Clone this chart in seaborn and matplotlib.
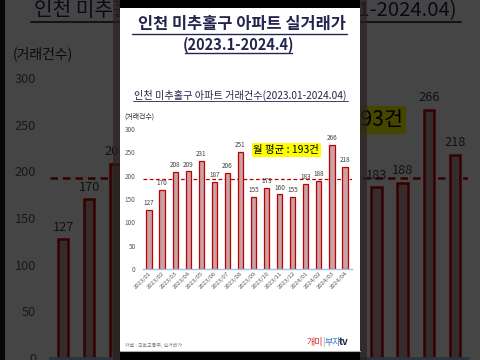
import matplotlib
matplotlib.use('Agg')
import matplotlib.pyplot as plt
from matplotlib.patches import Rectangle
import seaborn as sns
import pandas as pd

# --- data ---
months = ['2023/01', '2023/02', '2023/03', '2023/04', '2023/05', '2023/06',
          '2023/07', '2023/08', '2023/09', '2023/10', '2023/11', '2023/12',
          '2024/01', '2024/02', '2024/03', '2024/04']
counts = [127, 170, 208, 209, 231, 187, 206, 251, 155, 173, 160, 155, 183, 188, 266, 218]
avg_count = 193
y_ticks = [0, 50, 100, 150, 200, 250, 300]

main_title = '인천 미추홀구 아파트 실거래가'
sub_title = '(2023.1-2024.4)'
chart_title = '인천 미추홀구 아파트 거래건수(2023.01-2024.04)'
y_unit = '(거래건수)'
avg_text = '월 평균 : 193건'
source_text = '자료 : 국토교통부, 실거래가'

df = pd.DataFrame({'month': months, 'count': counts})

sns.set_style('white')
plt.rcParams['font.family'] = ['Noto Sans CJK KR', 'DejaVu Sans']

TITLE_COL = '#25244f'
BAR_FILL = '#c8a2a4'
BAR_EDGE = '#c00000'

fig = plt.figure(figsize=(4.8, 3.6), dpi=100)
fig.patch.set_facecolor('#1e1e1e')


def draw_layer(s, z):
    """Draw the video panel, scaled by s around (235, 180) in pixel space."""
    cx, cy = 235, 180

    def P(x, y):
        return cx + s * (x - cx), cy + s * (y - cy)

    canvas = fig.add_axes([0, 0, 1, 1], zorder=z)
    canvas.set_xlim(0, 480)
    canvas.set_ylim(360, 0)
    canvas.axis('off')
    canvas.patch.set_alpha(0)

    x0, y0 = P(120, 8)
    x1, y1 = P(360, 351)
    canvas.add_patch(Rectangle((x0, y0), x1 - x0, y1 - y0, fc='white', ec='none'))

    # titles with underline
    canvas.text(*P(242, 24), main_title, ha='center', va='center',
                fontsize=11.8 * s, color=TITLE_COL, fontweight='bold')
    canvas.plot(*zip(P(132, 34), P(347, 34)), color=TITLE_COL, lw=1 * s)
    canvas.text(*P(239, 45), sub_title, ha='center', va='center',
                fontsize=10.5 * s, color=TITLE_COL, fontweight='bold')
    canvas.plot(*zip(P(185, 53), P(292, 53)), color=TITLE_COL, lw=1 * s)

    canvas.text(*P(240, 95), chart_title, ha='center', va='center',
                fontsize=7.3 * s, color=TITLE_COL)
    canvas.plot(*zip(P(133, 101), P(348, 101)), color=TITLE_COL, lw=0.6 * s)

    canvas.text(*P(124, 117), y_unit, ha='left', va='center',
                fontsize=5 * s, color='#262626')
    canvas.text(*P(125, 345), source_text, ha='left', va='center',
                fontsize=3.6 * s, color='#7f7f7f')

    # logo
    canvas.text(*P(307, 342), '개미', ha='left', va='center', fontsize=6.5 * s, color='#e02b2b')
    canvas.text(*P(322, 342), '|', ha='left', va='center', fontsize=6.5 * s, color='#999999')
    canvas.text(*P(325, 342), '부자', ha='left', va='center', fontsize=6.5 * s, color='#3f78c8')
    canvas.text(*P(339, 342), 'tv', ha='left', va='center', fontsize=7 * s,
                color='#1f2a44', fontweight='bold')

    # chart axes
    L, T = P(142.5, 129)
    R, B = P(351.5, 269)
    ax = fig.add_axes([L / 480, 1 - B / 360, (R - L) / 480, (B - T) / 360], zorder=z + 1)
    ax.patch.set_alpha(0)
    sns.barplot(data=df, x='month', y='count', ax=ax, width=0.4,
                color=BAR_FILL, edgecolor=BAR_EDGE, linewidth=0.9 * s, saturation=1)
    for c in ax.containers:
        ax.bar_label(c, padding=2 * s, fontsize=4.6 * s, color='#404040')
    ax.axhline(avg_count, color=BAR_EDGE, ls=(0, (3, 2)), lw=0.9 * s, zorder=0)
    ax.set_ylim(0, 300)
    ax.set_xlim(-0.5, len(months) - 0.5)
    ax.set_yticks(y_ticks)
    ax.set_xlabel('')
    ax.set_ylabel('')
    ax.tick_params(axis='y', length=0, labelsize=4.6 * s, labelcolor='#595959', pad=5 * s)
    ax.tick_params(axis='x', length=0, labelsize=4.3 * s, labelcolor='#595959', pad=1 * s)
    for lab in ax.get_xticklabels():
        lab.set_rotation(45)
        lab.set_ha('right')
        lab.set_rotation_mode('anchor')
    for side in ['top', 'right', 'left']:
        ax.spines[side].set_visible(False)
    ax.spines['bottom'].set_color('#9cc2e5')
    ax.spines['bottom'].set_linewidth(1 * s)
    ax.text(10.5, 255, avg_text, ha='center', va='center', fontsize=7.5 * s,
            color='black', bbox=dict(boxstyle='square,pad=0.15', fc='#ffff00', ec='none'))
    return canvas


# enlarged, darkened background copy
draw_layer(2, 0)

shade = fig.add_axes([0, 0, 1, 1], zorder=3)
shade.set_xlim(0, 480)
shade.set_ylim(360, 0)
shade.axis('off')
shade.patch.set_alpha(0)
shade.add_patch(Rectangle((0, 0), 480, 360, fc='black', alpha=0.73, ec='none'))
shade.add_patch(Rectangle((113, 0), 7, 360, fc='#2a2020', alpha=0.7, ec='none'))
shade.add_patch(Rectangle((360, 0), 7, 360, fc='#2a2020', alpha=0.7, ec='none'))

# front panel
front = draw_layer(1, 5)
front.add_patch(Rectangle((120, 0), 240, 8, fc='black', ec='none'))
front.add_patch(Rectangle((120, 351), 240, 9, fc='black', ec='none'))
front.plot([120, 360], [351, 351], color='#b0b0b0', lw=0.8)

fig.savefig('out.png', dpi=100, facecolor=fig.get_facecolor())
